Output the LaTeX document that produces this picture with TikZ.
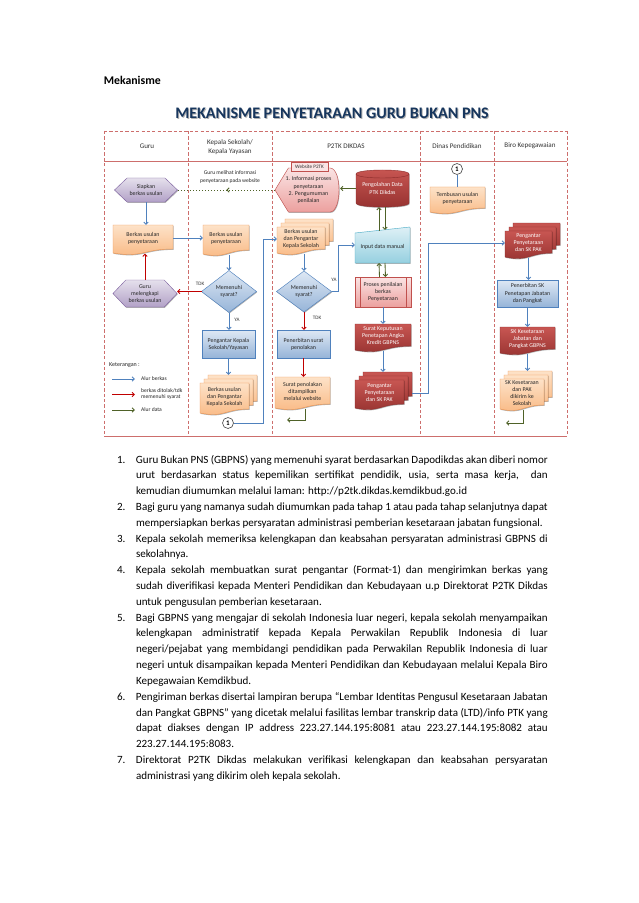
\documentclass[tikz,border=0pt]{standalone}
\usepackage{fontspec}
\setmainfont{Carlito}
\usetikzlibrary{calc,shadows,decorations.markings,arrows.meta}
\pgfdeclarelayer{background}
\pgfsetlayers{background,main}
\definecolor{pupT}{RGB}{229,224,236}\definecolor{pupB}{RGB}{178,161,199}\definecolor{pupD}{RGB}{128,100,162}
\definecolor{orgT}{RGB}{253,226,200}\definecolor{orgB}{RGB}{249,184,130}\definecolor{orgD}{RGB}{240,150,80}
\definecolor{bluT}{RGB}{222,232,244}\definecolor{bluB}{RGB}{150,180,216}\definecolor{bluD}{RGB}{79,129,189}
\definecolor{cyaT}{RGB}{222,240,246}\definecolor{cyaB}{RGB}{150,208,224}\definecolor{cyaD}{RGB}{75,172,198}
\definecolor{pnkT}{RGB}{250,228,228}\definecolor{pnkB}{RGB}{236,160,158}\definecolor{pnkD}{RGB}{192,80,77}
\definecolor{drT}{RGB}{200,86,82}\definecolor{drB}{RGB}{150,50,48}\definecolor{drD}{RGB}{140,45,43}
\definecolor{lnBlue}{RGB}{79,129,189}\definecolor{lnRed}{RGB}{192,0,0}\definecolor{lnGreen}{RGB}{79,98,40}
\definecolor{frameC}{RGB}{205,110,108}\definecolor{titleC}{RGB}{23,54,93}
\def\pxu{0.9326pt}
\newcommand\hexshape[2]{\path[#1] (#2.west) -- ($(#2.north west)!0.2!(#2.north east)$) -- ($(#2.north west)!0.8!(#2.north east)$) -- (#2.east) -- ($(#2.south west)!0.8!(#2.south east)$) -- ($(#2.south west)!0.2!(#2.south east)$) -- cycle;}
\newcommand\diashape[2]{\path[#1] (#2.north) -- (#2.east) -- (#2.south) -- (#2.west) -- cycle;}
\newcommand\docshape[5]{\path[#1] ($(#2.north west)+(#4,#5)$) -- ($(#2.north east)+(#4,#5)$) -- ($(#2.south east)+(#4,#5-#3)$) .. controls ($(#2.south)+(#4,#5-#3)$) and ($(#2.south)+(#4,#5+3.5*#3)$) .. ($(#2.south west)+(#4,#5+#3)$) -- cycle;}
\newcommand\mdocshape[3]{\docshape{#1}{#2}{#3}{8}{-8}\docshape{#1}{#2}{#3}{4}{-4}\docshape{#1}{#2}{#3}{0}{0}}
\newcommand\dispshape[2]{\path[#1] (#2.west) -- ($(#2.north west)!0.2!(#2.north east)$) -- ($(#2.north west)!0.82!(#2.north east)$) .. controls (#2.north east) and (#2.south east) .. ($(#2.south west)!0.82!(#2.south east)$) -- ($(#2.south west)!0.2!(#2.south east)$) -- cycle;}
\newcommand\manshape[2]{\path[#1] ($(#2.north west)+(0,6)$) -- (#2.north east) -- (#2.south east) -- (#2.south west) -- cycle;}
\newcommand\dbshape[2]{\path[#1] ($(#2.north west)+(0,4)$) .. controls ($(#2.north west)+(0,-1.333)$) and ($(#2.north east)+(0,-1.333)$) .. ($(#2.north east)+(0,4)$) -- ($(#2.south east)+(0,-4)$) .. controls ($(#2.south east)+(0,1.333)$) and ($(#2.south west)+(0,1.333)$) .. ($(#2.south west)+(0,-4)$) -- cycle;
 \draw[draw=drD, line width=0.4pt] ($(#2.north west)+(0,4)$) .. controls ($(#2.north west)+(0,9.333)$) and ($(#2.north east)+(0,9.333)$) .. ($(#2.north east)+(0,4)$);}
\newcommand\procshape[2]{\path[#1] (#2.north west) rectangle (#2.south east);
 \draw[draw=pnkD, line width=0.4pt] ($(#2.north west)!0.09!(#2.north east)$) -- ($(#2.south west)!0.09!(#2.south east)$) ($(#2.north west)!0.91!(#2.north east)$) -- ($(#2.south west)!0.91!(#2.south east)$);}
\newcommand\itemnum[1]{\noindent\llap{\makebox[17.7pt][l]{#1}}}
\begin{document}
\begin{tikzpicture}[x=0.9326pt,y=-0.9326pt,
 txt/.style={font=\fontsize{5.5}{6.6}\selectfont, align=center, inner sep=0pt, outer sep=0pt, text=black!85},
 wtxt/.style={txt, text=white},
 sz/.style 2 args={minimum width=#1*\pxu, minimum height=#2*\pxu},
 hdr/.style={font=\fontsize{6.6}{8.2}\selectfont, align=center, inner sep=0pt, text=black!80},
 lbl/.style={font=\fontsize{4.8}{5.5}\selectfont, inner sep=0pt, text=black!80},
 leg/.style={font=\fontsize{5.2}{6.2}\selectfont, inner sep=0pt, align=left, anchor=west, text=black!85},
 shd/.style={drop shadow={shadow xshift=0.6pt, shadow yshift=-0.8pt, opacity=0.3, fill=black}},
 fpup/.style={top color=pupT, bottom color=pupB, draw=pupD, line width=0.4pt, shd},
 forg/.style={top color=orgT, bottom color=orgB, draw=orgD, line width=0.4pt, shd},
 fblu/.style={top color=bluT, bottom color=bluB, draw=bluD, line width=0.4pt, shd},
 fcya/.style={top color=cyaT, bottom color=cyaB, draw=cyaD, line width=0.4pt, shd},
 fpnk/.style={top color=pnkT, bottom color=pnkB, draw=pnkD, line width=0.4pt, shd},
 fdr/.style={top color=drT, bottom color=drB, draw=drD, line width=0.4pt, shd},
 rectbox/.style={txt, fblu},
 circ/.style={circle, draw=black!70, line width=0.6pt, fill=white, minimum size=11*\pxu, inner sep=0pt, font=\bfseries\fontsize{6.5}{7}\selectfont},
 tip/.style={-{Straight Barb[length=2.2pt,width=4.2pt]}},
 blueln/.style={draw=lnBlue, line width=0.8pt, tip},
 redln/.style={draw=lnRed, line width=0.8pt, tip},
 greenln/.style={draw=lnGreen, line width=0.8pt, tip},
 dotln/.style={draw=lnGreen, line width=0.8pt, dotted, postaction={decorate}, decoration={markings, mark=at position 0.5 with {\arrow{Straight Barb[length=2.2pt,width=4.2pt]}}}},
 framed/.style={draw=frameC, line width=0.6pt, densely dashed},
 frames/.style={draw=frameC, line width=0.7pt}
]
\useasboundingbox (0,0) rectangle (638,903);

% headings
\node[anchor=west, font=\bfseries\fontsize{11}{13}\selectfont] (mek) at (100,80) {Mekanisme};
\node[font=\bfseries\fontsize{15}{18}\selectfont, text=black!30] (titleshadow) at (333,114) {MEKANISME PENYETARAAN GURU BUKAN PNS};
\node[font=\bfseries\fontsize{15}{18}\selectfont, text=titleC] (title) at (332,113) {MEKANISME PENYETARAAN GURU BUKAN PNS};

% frame
\draw[framed] (104,131) -- (567,131);
\draw[frames] (104,161) -- (567,161);
\draw[frames] (104,436) -- (567,436);
\foreach \xx in {104,188,272,420,494,567} {\draw[framed] (\xx,131) -- (\xx,436);}
\node[hdr] (h1) at (147,146) {Guru};
\node[hdr] (h2) at (230,147) {Kepala Sekolah/\\Kepala Yayasan};
\node[hdr] (h3) at (346,146) {P2TK DIKDAS};
\node[hdr] (h4) at (457,146) {Dinas Pendidikan};
\node[hdr] (h5) at (530,146) {Biro Kepegawaian};

% Guru lane
\node[txt, sz={63}{24}] (hex1) at (146,190) {Siapkan\\berkas usulan};
\node[txt, sz={60}{26}] (doc1) at (143,238) {Berkas usulan\\penyetaraan};
\node[txt, sz={64}{27}] (hex2) at (145,293.5) {Guru\\melengkapi\\berkas usulan};

% legend
\node[leg, font=\fontsize{5.6}{6.6}\selectfont] (ket) at (109,365) {Keterangan :};
\coordinate (l1a) at (112,379); \coordinate (l1b) at (135,379);
\coordinate (l2a) at (112,394.5); \coordinate (l2b) at (135,394.5);
\coordinate (l3a) at (112,410); \coordinate (l3b) at (135,410);
\draw[blueln] (l1a) -- (l1b);
\draw[redln] (l2a) -- (l2b);
\draw[greenln] (l3a) -- (l3b);
\node[leg] (lt1) at (141,379) {Alur berkas};
\node[leg] (lt2) at (141,394) {berkas ditolak/tdk\\memenuhi syarat};
\node[leg] (lt3) at (141,410) {Alur data};

% Kepala Sekolah lane
\node[txt, font=\fontsize{5.2}{7}\selectfont] (note) at (230,177) {Guru melihat informasi\\penyetaraan pada website};
\node[txt, sz={46}{27}] (doc2) at (226,238.5) {Berkas usulan\\penyetaraan};
\node[txt, sz={55}{42}] (dia1) at (229,291.5) {Memenuhi\\syarat?};
\node[rectbox, sz={53}{28}] (rect1) at (228.5,344) {Pengantar Kepala\\Sekolah/Yayasan};
\node[txt, sz={49}{28}] (mdoc1) at (224.5,397) {Berkas usulan\\dan Pengantar\\Kepala Sekolah};
\node[circ] (c1) at (228,423) {1};
\node[lbl] (tdk1) at (200,284) {TDK};
\node[lbl] (ya1) at (237,320) {YA};

% P2TK lane
\node[txt, sz={67}{44}] (disp) at (308.5,190) {1. Informasi proses\\penyetaraan\\2. Pengumuman\\penilaian};
\node[lbl, fill=pnkT, draw=pnkD, line width=0.5pt, minimum width=37*\pxu, minimum height=9*\pxu] (tag) at (309.5,167) {Website P2TK};
\node[wtxt, sz={53}{37}] (db) at (382.5,188.5) {Pengolahan Data\\PTK Dikdas};
\node[txt, sz={48}{24}] (mdoc2) at (301,239) {Berkas usulan\\dan Pengantar\\Kepala Sekolah};
\node[txt, sz={55}{41}] (dia2) at (304,291.5) {Memenuhi\\syarat?};
\node[txt, sz={55}{36}] (inp) at (382.5,245) {\\[1pt]Input data manual};
\node[txt, sz={56}{30}] (proc) at (383,292) {Proses penilaian\\berkas\\Penyetaraan};
\node[wtxt, sz={56}{24}] (skpak) at (383,336) {Surat Keputusan\\Penetapan Angka\\Kredit GBPNS};
\node[wtxt, sz={49}{26}] (mdoc3) at (379.5,393) {Pengantar\\Penyetaraan\\dan SK PAK};
\node[rectbox, sz={53}{28}] (rect2) at (303.5,344) {Penerbitan surat\\penolakan};
\node[txt, sz={55}{29}] (doc3) at (302.5,391.5) {Surat penolakan\\ditampilkan\\melalui website};
\coordinate (g1) at (287,420);
\node[lbl] (ya2) at (334,280) {YA};
\node[lbl] (tdk2) at (317,318) {TDK};

% Dinas
\node[circ] (c2) at (457,169) {1};
\node[txt, sz={55}{23}] (doc4) at (457.5,198.5) {Tembusan usulan\\penyetaraan};

% Biro
\node[wtxt, sz={47}{24}] (mdoc4) at (528.5,243) {Pengantar\\Penyetaraan\\dan SK PAK};
\node[rectbox, sz={61}{27}] (rect3) at (527.5,293.5) {Penerbitan SK\\Penetapan Jabatan\\dan Pangkat};
\node[wtxt, sz={55}{24}] (sk2) at (527.5,339) {SK Kesetaraan\\Jabatan dan\\Pangkat GBPNS};
\node[txt, sz={44}{28}] (mdoc5) at (522,393) {SK Kesetaraan\\dan PAK\\dikirim ke\\Sekolah};
\coordinate (g2) at (506,423);

% shapes behind
\begin{pgfonlayer}{background}
\fill[white] (0,0) rectangle (638,903);
\hexshape{fpup}{hex1}
\hexshape{fpup}{hex2}
\docshape{forg}{doc1}{2}{0}{0}
\docshape{forg}{doc2}{2}{0}{0}
\diashape{fblu}{dia1}
\mdocshape{forg}{mdoc1}{2}
\dispshape{fpnk}{disp}
\dbshape{fdr}{db}
\mdocshape{forg}{mdoc2}{2}
\diashape{fblu}{dia2}
\manshape{fcya}{inp}
\procshape{fpnk}{proc}
\docshape{fdr}{skpak}{2}{0}{0}
\mdocshape{fdr}{mdoc3}{2}
\docshape{forg}{doc3}{2}{0}{0}
\docshape{forg}{doc4}{2}{0}{0}
\mdocshape{fdr}{mdoc4}{2}
\docshape{fdr}{sk2}{2}{0}{0}
\mdocshape{forg}{mdoc5}{2}
\end{pgfonlayer}

% connectors
\draw[blueln] (hex1.south) -- (hex1.south |- doc1.north);
\draw[redln] (hex2.north) -- ($(hex2.north |- doc1.south)+(0,2.5)$);
\draw[blueln] (doc1.east) -- (doc1.east -| doc2.west);
\draw[blueln] ($(dia1.north |- doc2.south)+(0,2.5)$) -- (dia1.north);
\draw[blueln] (dia1.south) -- (dia1.south |- rect1.north);
\draw[redln] (dia1.west) -- (dia1.west -| hex2.east);
\draw[blueln] (rect1.south) -- ($(rect1.south |- mdoc1.north)+(0,-8)$);
\draw[blueln] (c1.east) -| ($(mdoc2.west)+(-14,0)$) -- (mdoc2.west);
\draw[dotln] (disp.west) -- (disp.west -| hex1.east);
\draw[greenln] (db.west) -- ($(db.west -| disp.east)+(-2,0)$);
\draw[greenln] ($(inp.north)+(-3.5,3.5)$) -- ($(db.south)+(-3.5,0)$);
\draw[greenln] ($(db.south)+(2.5,0)$) -- ($(inp.north)+(2.5,3)$);
\draw[greenln] ($(proc.north)+(-3.5,0)$) -- ($(inp.south)+(-3.5,0)$);
\draw[greenln] ($(inp.south)+(2.5,0)$) -- ($(proc.north)+(2.5,0)$);
\draw[blueln] ($(dia2.north |- mdoc2.south)+(0,2.5)$) -- (dia2.north);
\draw[blueln] (dia2.east) -| ($(inp.west)+(-17,0)$) -- (inp.west);
\draw[redln] (dia2.south) -- (dia2.south |- rect2.north);
\draw[redln] (rect2.south) -- (rect2.south |- doc3.north);
\draw[greenln] ($(doc3.south)+(2.5,2.5)$) |- (g1);
\draw[blueln] (proc.south) -- (proc.south |- skpak.north);
\draw[blueln] ($(skpak.south)+(0,2.5)$) -- ($(skpak.south |- mdoc3.north)+(0,-8)$);
\draw[blueln] ($(mdoc3.east)+(8,0)$) -| ($(mdoc4.west)+(-77,0)$) -- (mdoc4.west);
\draw[draw=lnBlue, line width=0.8pt] (c2.south) -- (c2.south |- doc4.north);
\draw[blueln] ($(mdoc4.south)+(0,2.5)$) -- (mdoc4.south |- rect3.north);
\draw[blueln] (rect3.south) -- (rect3.south |- sk2.north);
\draw[blueln] ($(sk2.south)+(0,2.5)$) -- ($(sk2.south |- mdoc5.north)+(0,-8)$);
\draw[greenln] ($(mdoc5.south)+(1,2.5)$) |- (g2);

% numbered text
\node[anchor=base west, text width=384pt, inner sep=0pt, outer sep=0pt, align=justify, font=\fontsize{10.3}{14.75}\selectfont] (list) at (136,463) {%
\tolerance=9999 \hbadness=10000 \hfuzz=6pt
\itemnum{1.}Guru Bukan PNS (GBPNS) yang memenuhi syarat berdasarkan Dapodikdas akan diberi nomor\linebreak
urut berdasarkan status kepemilikan sertifikat pendidik, usia, serta masa kerja,\ \ dan\linebreak
kemudian diumumkan melalui laman: http://p2tk.dikdas.kemdikbud.go.id\par
\itemnum{2.}Bagi guru yang namanya sudah diumumkan pada tahap 1 atau pada tahap selanjutnya dapat\linebreak
mempersiapkan berkas persyaratan administrasi pemberian kesetaraan jabatan fungsional.\par
\itemnum{3.}Kepala sekolah memeriksa kelengkapan dan keabsahan persyaratan administrasi GBPNS di\linebreak
sekolahnya.\par
\itemnum{4.}Kepala sekolah membuatkan surat pengantar (Format-1) dan mengirimkan berkas yang\linebreak
sudah diverifikasi kepada Menteri Pendidikan dan Kebudayaan u.p Direktorat P2TK Dikdas\linebreak
untuk pengusulan pemberian kesetaraan.\par
\itemnum{5.}Bagi GBPNS yang mengajar di sekolah Indonesia luar negeri, kepala sekolah menyampaikan\linebreak
kelengkapan administratif kepada Kepala Perwakilan Republik Indonesia di luar\linebreak
negeri/pejabat yang membidangi pendidikan pada Perwakilan Republik Indonesia di luar\linebreak
negeri untuk disampaikan kepada Menteri Pendidikan dan Kebudayaan melalui Kepala Biro\linebreak
Kepegawaian Kemdikbud.\par
\itemnum{6.}Pengiriman berkas disertai lampiran berupa “Lembar Identitas Pengusul Kesetaraan Jabatan\linebreak
dan Pangkat GBPNS” yang dicetak melalui fasilitas lembar transkrip data (LTD)/info PTK yang\linebreak
dapat diakses dengan IP address 223.27.144.195:8081 atau 223.27.144.195:8082 atau\linebreak
223.27.144.195:8083.\par
\itemnum{7.}Direktorat P2TK Dikdas melakukan verifikasi kelengkapan dan keabsahan persyaratan\linebreak
administrasi yang dikirim oleh kepala sekolah.\par};
\end{tikzpicture}
\end{document}
